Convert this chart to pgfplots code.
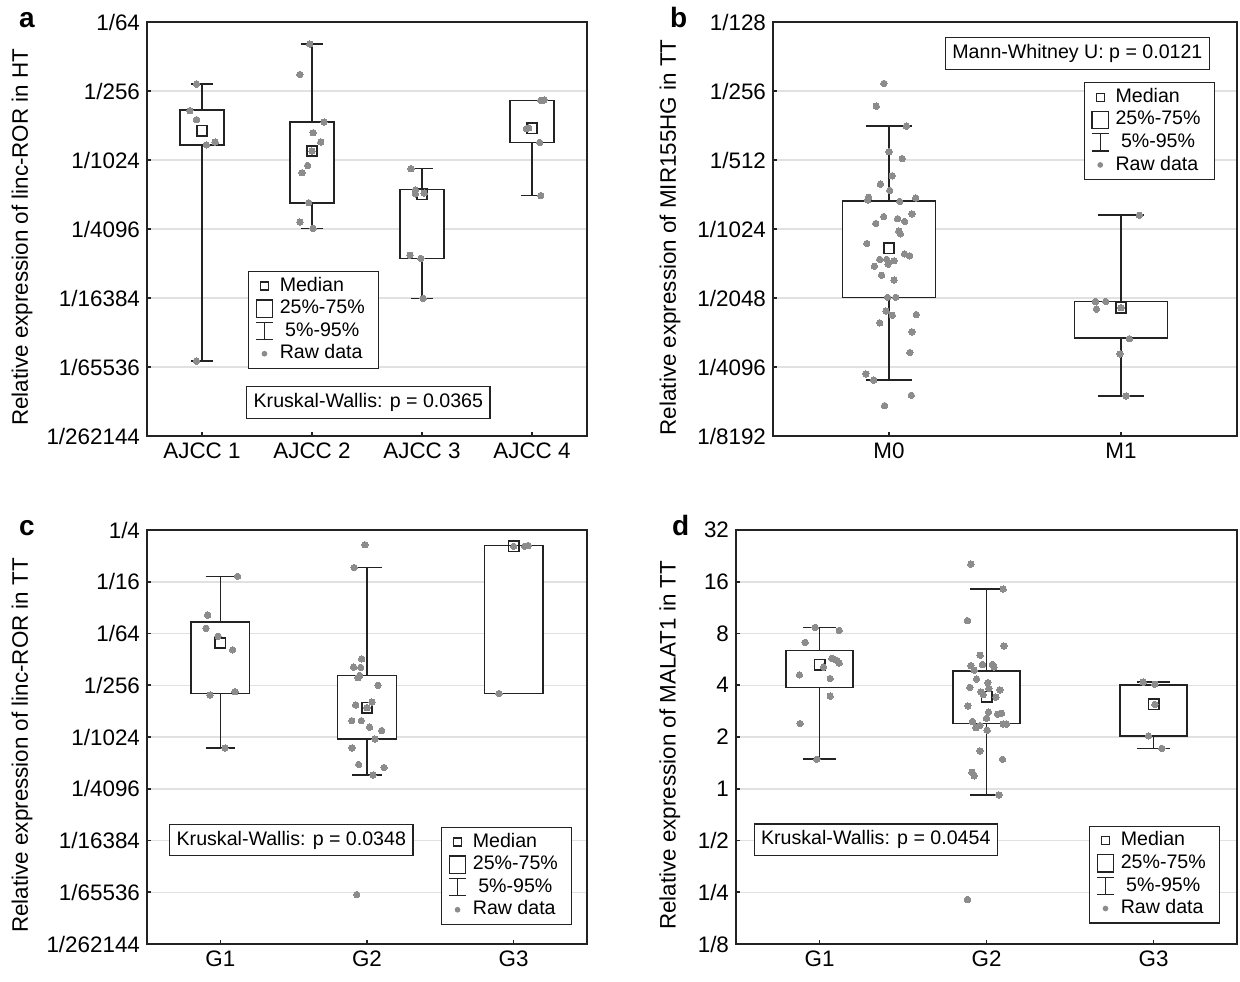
\documentclass[border=0pt]{standalone}
\usepackage{fontspec}
\setmainfont{Liberation Sans}
\usepackage{pgfplots}
\pgfplotsset{compat=1.18}
\usepgfplotslibrary{statistics}

\definecolor{ptgray}{RGB}{140,140,140}
\definecolor{gridgray}{RGB}{225,225,225}
\definecolor{boxblack}{RGB}{35,35,35}

\pgfplotsset{
  panel/.style={
    scale only axis, height=207pt,
    ymajorgrids, grid style={gridgray, line width=0.75pt},
    axis line style={line width=0.8pt, boxblack},
    tick style={line width=0.8pt, boxblack},
    tick align=inside, major tick length=2pt,
    xtick pos=lower, ytick pos=left,
    tick label style={font=\fontsize{11.2}{13}\selectfont},
    label style={font=\fontsize{11.2}{13}\selectfont},
    ylabel style={anchor=center},
    legend cell align=left,
    legend style={draw=boxblack, line width=0.6pt, fill=white,
      font=\fontsize{9.8}{11}\selectfont,
      inner xsep=3.6pt, inner ysep=1.6pt, row sep=0pt,
      nodes={inner xsep=3.2pt, inner ysep=1.2pt, text height=7pt, text depth=1.9pt}},
  },
  bx/.style={forget plot, draw=boxblack, line width=0.8pt, solid, mark=none,
    boxplot/draw direction=y,
    boxplot/every box/.style={fill=white},
    boxplot/draw/median/.code={}},
  med/.style={forget plot, only marks, mark=square, mark size=2.6pt,
    mark options={draw=boxblack, line width=0.8pt, fill=none}},
  raw/.style={forget plot, only marks, color=ptgray, mark=*, mark size=1.6pt,
    mark options={ptgray, line width=0pt}},
}

\newcommand{\keylegend}{%
  \addlegendimage{legend image code/.code={\draw[line width=0.6pt, boxblack] (2.15pt,-2pt) rectangle (6.15pt,2pt);}}
  \addlegendentry{Median}
  \addlegendimage{legend image code/.code={\draw[line width=0.6pt, boxblack] (0pt,-4.3pt) rectangle (8.3pt,4.3pt);}}
  \addlegendentry{25\%-75\%\hspace{1.5pt}}
  \addlegendimage{legend image code/.code={\draw[line width=0.6pt, boxblack] (0pt,-4.3pt)--(8.3pt,-4.3pt) (0pt,4.3pt)--(8.3pt,4.3pt) (4.15pt,-4.3pt)--(4.15pt,4.3pt);}}
  \addlegendentry{\ 5\%-95\%}
  \addlegendimage{legend image code/.code={\fill[ptgray] (4.15pt,0pt) circle (1.1pt);}}
  \addlegendentry{Raw data}
}

\tikzset{note/.style={draw=boxblack, line width=0.6pt, fill=white,
  font=\fontsize{9.8}{11}\selectfont, inner xsep=3.5pt, inner ysep=3.3pt,
  text height=7.1pt, text depth=2pt}}

\begin{document}
\begin{tikzpicture}
\useasboundingbox (0,0) rectangle (620pt,-490.5pt);

% ---- a ----
\begin{axis}[panel, at={(73.5pt,-11pt)}, anchor=north west, width=220pt,
  xmin=0.5, xmax=4.5, xtick={1,2,3,4},
  xticklabels={AJCC 1,AJCC 2,AJCC 3,AJCC 4},
  ymin=-18, ymax=-6, ytick={-18,-16,...,-6},
  yticklabels={1/262144,1/65536,1/16384,1/4096,1/1024,1/256,1/64},
  ylabel={Relative expression of linc-ROR in HT},
  ylabel style={at={(rel axis cs:-0.284,0.48)}},
  legend style={at={(0.229,0.399)}, anchor=north west}]
\addplot[bx, boxplot prepared={draw position=1, lower whisker=-15.83, lower quartile=-9.57, median=-9.15, upper quartile=-8.55, upper whisker=-7.80, box extend=0.4, whisker extend=0.2}] coordinates {};
\addplot[bx, boxplot prepared={draw position=2, lower whisker=-11.98, lower quartile=-11.24, median=-9.74, upper quartile=-8.90, upper whisker=-6.64, box extend=0.4, whisker extend=0.2}] coordinates {};
\addplot[bx, boxplot prepared={draw position=3, lower whisker=-14.01, lower quartile=-12.86, median=-10.99, upper quartile=-10.85, upper whisker=-10.25, box extend=0.4, whisker extend=0.2}] coordinates {};
\addplot[bx, boxplot prepared={draw position=4, lower whisker=-11.03, lower quartile=-9.49, median=-9.08, upper quartile=-8.27, upper whisker=-8.27, box extend=0.4, whisker extend=0.2}] coordinates {};
\addplot[med] coordinates {(1,-9.15) (2,-9.74) (3,-10.99) (4,-9.08)};
\addplot[raw] coordinates {
(0.95,-7.80) (0.89,-8.57) (0.95,-8.83) (1.04,-9.56) (1.12,-9.48) (0.95,-15.83)
(1.98,-6.64) (1.89,-7.52) (2.11,-8.90) (2.01,-9.21) (2.08,-9.48) (2.00,-9.74)
(1.96,-10.16) (1.91,-10.37) (1.97,-11.24) (1.89,-11.80) (2.01,-11.98)
(2.90,-10.25) (2.94,-10.87) (2.94,-10.98) (3.02,-10.96) (2.89,-12.76) (2.99,-12.85) (3.01,-14.01)
(4.08,-8.27) (4.11,-8.26) (3.95,-9.09) (3.97,-9.07) (4.07,-9.49) (4.08,-11.03)};
\keylegend
\node[note] at (rel axis cs:0.503,0.081) {Kruskal-Wallis: p = 0.0365};
\end{axis}

% ---- b ----
\begin{axis}[panel, at={(386.5pt,-11pt)}, anchor=north west, width=232pt,
  xmin=0.5, xmax=2.5, xtick={1,2}, xticklabels={M0,M1},
  ymin=-13, ymax=-7, ytick={-13,...,-7},
  yticklabels={1/8192,1/4096,1/2048,1/1024,1/512,1/256,1/128},
  ylabel={Relative expression of MIR155HG in TT},
  ylabel style={at={(rel axis cs:-0.222,0.48)}},
  legend style={at={(0.952,0.855)}, anchor=north east}]
\addplot[bx, boxplot prepared={draw position=1, lower whisker=-12.19, lower quartile=-10.99, median=-10.28, upper quartile=-9.59, upper whisker=-8.51, box extend=0.4, whisker extend=0.2}] coordinates {};
\addplot[bx, boxplot prepared={draw position=2, lower whisker=-12.42, lower quartile=-11.58, median=-11.14, upper quartile=-11.05, upper whisker=-9.80, box extend=0.4, whisker extend=0.2}] coordinates {};
\addplot[med] coordinates {(1,-10.28) (2,-11.14)};
\addplot[raw] coordinates {
(0.978,-7.89) (0.945,-8.22) (1.075,-8.51) (1.000,-8.88) (1.057,-8.98) (1.014,-9.23)
(0.963,-9.35) (1.003,-9.44) (0.912,-9.54) (0.908,-9.58) (1.046,-9.60) (1.115,-9.55)
(1.099,-9.78) (0.977,-9.82) (0.943,-9.92) (1.037,-9.85) (1.067,-9.89) (1.042,-10.03)
(1.049,-10.07) (0.904,-10.21) (1.067,-10.36) (1.089,-10.39) (0.960,-10.44) (0.990,-10.44)
(1.022,-10.46) (0.996,-10.51) (0.937,-10.54) (0.968,-10.67) (1.022,-10.74) (0.994,-10.99)
(1.029,-10.99) (0.987,-11.19) (1.014,-11.25) (1.118,-11.24) (0.960,-11.36) (1.099,-11.49)
(1.090,-11.79) (0.900,-12.10) (0.934,-12.19) (1.096,-12.41) (0.981,-12.56)
(2.079,-9.80) (1.890,-11.05) (1.934,-11.05) (1.894,-11.16) (2.000,-11.14) (2.036,-11.59)
(1.996,-11.81) (2.022,-12.42)};
\keylegend
\node[note] at (rel axis cs:0.656,0.924) {Mann-Whitney U: p = 0.0121};
\end{axis}

% ---- c ----
\begin{axis}[panel, at={(73.5pt,-265pt)}, anchor=north west, width=220pt,
  xmin=0.5, xmax=3.5, xtick={1,2,3}, xticklabels={G1,G2,G3},
  ymin=-18, ymax=-2, ytick={-18,-16,...,-2},
  yticklabels={1/262144,1/65536,1/16384,1/4096,1/1024,1/256,1/64,1/16,1/4},
  ylabel={Relative expression of linc-ROR in TT},
  ylabel style={at={(rel axis cs:-0.284,0.48)}},
  legend style={at={(0.966,0.283)}, anchor=north east}]
\addplot[bx, boxplot prepared={draw position=1, lower whisker=-10.43, lower quartile=-8.32, median=-6.37, upper quartile=-5.55, upper whisker=-3.79, box extend=0.4, whisker extend=0.2}] coordinates {};
\addplot[bx, boxplot prepared={draw position=2, lower whisker=-11.47, lower quartile=-10.07, median=-8.87, upper quartile=-7.62, upper whisker=-3.45, box extend=0.4, whisker extend=0.2}] coordinates {};
\addplot[bx, boxplot prepared={draw position=3, lower whisker=-8.32, lower quartile=-8.32, median=-2.63, upper quartile=-2.60, upper whisker=-2.60, box extend=0.4, whisker extend=0}] coordinates {};
\addplot[med] coordinates {(1,-6.37) (2,-8.87) (3,-2.63)};
\addplot[raw] coordinates {
(1.118,-3.79) (0.914,-5.29) (0.902,-5.80) (0.984,-6.11) (1.084,-6.63) (0.930,-8.38)
(1.100,-8.25) (1.032,-10.43)
(1.986,-2.57) (1.912,-3.45) (1.964,-6.98) (1.909,-7.30) (1.957,-7.31) (1.950,-7.62)
(1.939,-7.71) (2.075,-8.00) (1.923,-8.76) (2.034,-8.65) (2.000,-8.87) (1.896,-9.37)
(1.961,-9.37) (2.018,-9.62) (2.100,-9.75) (2.054,-10.08) (1.898,-10.42) (1.943,-11.06)
(2.116,-11.18) (2.041,-11.47) (1.930,-16.09)
(3.000,-2.63) (3.075,-2.63) (3.100,-2.60) (2.900,-8.32)};
\keylegend
\node[note] at (rel axis cs:0.328,0.251) {Kruskal-Wallis: p = 0.0348};
\end{axis}

% ---- d ----
\begin{axis}[panel, at={(368pt,-265pt)}, anchor=north west, width=250.5pt,
  xmin=0.5, xmax=3.5, xtick={1,2,3}, xticklabels={G1,G2,G3},
  ymin=-3, ymax=5, ytick={-3,...,5},
  yticklabels={1/8,1/4,1/2,1,2,4,8,16,32},
  ylabel={Relative expression of MALAT1 in TT},
  ylabel style={at={(rel axis cs:-0.132,0.48)}},
  legend style={at={(0.966,0.286)}, anchor=north east}]
\addplot[bx, boxplot prepared={draw position=1, lower whisker=0.57, lower quartile=1.96, median=2.40, upper quartile=2.67, upper whisker=3.12, box extend=0.4, whisker extend=0.2}] coordinates {};
\addplot[bx, boxplot prepared={draw position=2, lower whisker=-0.12, lower quartile=1.26, median=1.78, upper quartile=2.27, upper whisker=3.86, box extend=0.4, whisker extend=0.2}] coordinates {};
\addplot[bx, boxplot prepared={draw position=3, lower whisker=0.78, lower quartile=1.02, median=1.63, upper quartile=2.01, upper whisker=2.06, box extend=0.4, whisker extend=0.2}] coordinates {};
\addplot[med] coordinates {(1,2.40) (2,1.78) (3,1.63)};
\addplot[raw] coordinates {
(0.974,3.12) (1.118,3.06) (0.914,2.83) (1.074,2.52) (1.084,2.51) (1.104,2.48)
(1.118,2.43) (1.024,2.35) (0.880,2.20) (1.064,2.13) (1.064,1.79) (0.884,1.26) (0.984,0.57)
(1.906,4.34) (2.100,3.86) (1.886,3.25) (2.104,2.76) (1.962,2.58) (1.906,2.38)
(1.976,2.40) (2.036,2.40) (2.044,2.35) (1.926,2.29) (1.940,2.12) (2.008,2.05)
(1.900,1.96) (2.014,1.94) (2.080,1.91) (1.966,1.87) (1.980,1.82) (2.056,1.77)
(1.888,1.60) (2.012,1.48) (2.066,1.44) (2.090,1.46) (2.000,1.36) (1.916,1.30)
(2.100,1.25) (2.120,1.25) (1.936,1.18) (1.960,1.22) (2.004,1.13) (1.960,0.73)
(2.096,0.57) (1.912,0.32) (1.926,0.25) (2.074,-0.12) (1.886,-2.14)
(2.938,2.06) (3.008,2.02) (3.008,1.63) (2.970,1.02) (3.050,0.78)};
\keylegend
\node[note] at (rel axis cs:0.279,0.252) {Kruskal-Wallis: p = 0.0454};
\end{axis}

\node[anchor=base west, font=\fontsize{14}{16}\selectfont\bfseries] at (6pt,-13.5pt) {a};
\node[anchor=base west, font=\fontsize{14}{16}\selectfont\bfseries] at (331.5pt,-13.5pt) {b};
\node[anchor=base west, font=\fontsize{14}{16}\selectfont\bfseries] at (6pt,-267.5pt) {c};
\node[anchor=base west, font=\fontsize{14}{16}\selectfont\bfseries] at (332.5pt,-267.5pt) {d};
\end{tikzpicture}
\end{document}
